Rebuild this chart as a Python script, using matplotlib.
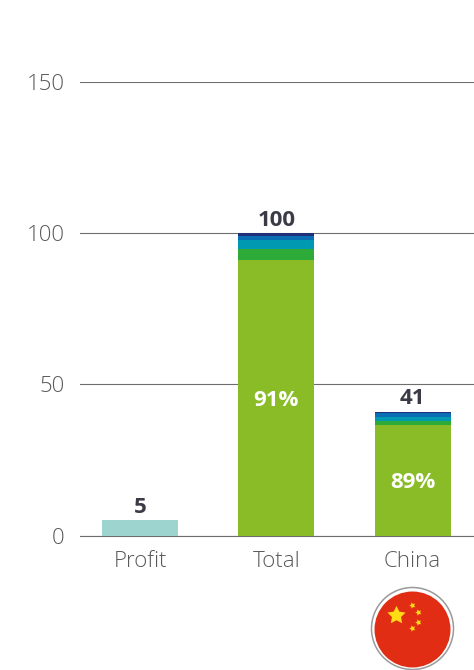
import matplotlib.pyplot as plt
from matplotlib.patches import Circle

plt.rcParams['font.family'] = ['Open Sans', 'DejaVu Sans']

categories = ['Profit', 'Total', 'China']
totals = [5, 100, 41]
yticks = [0, 50, 100, 150]

profit_value = [5, 0, 0]
lime = [0, 91, 36.5]
green = [0, 3.9, 1.4]
teal = [0, 2.8, 1.3]
blue = [0, 1.3, 1.4]
navy = [0, 1.0, 0.4]
share_labels = ['', '91%', '89%']

W, H = 474, 670
fig = plt.figure(figsize=(W / 100, H / 100), dpi=100)
ax = fig.add_axes([80 / W, (H - 535.5) / H, 394 / W, 453.5 / H])

# bars
x = range(len(categories))
bottom = [0, 0, 0]
for vals, col in [(profit_value, '#9dd4cf'), (lime, '#89bc27'), (green, '#2eaa38'),
                  (teal, '#0099b2'), (blue, '#0a6eb4'), (navy, '#1f2f78')]:
    ax.bar(x, vals, width=0.558, bottom=bottom, color=col, zorder=3)
    bottom = [b + v for b, v in zip(bottom, vals)]

for i, t in enumerate(totals):
    ax.annotate(str(t), (i, t), xytext=(0, 9.2), textcoords='offset points',
                ha='center', va='center', fontsize=16, fontweight='bold',
                color='#3b3b47', zorder=5)
for i, s in enumerate(share_labels):
    if s:
        ax.annotate(s, (i, lime[i] / 2), xytext=(0, -1.8), textcoords='offset points',
                    ha='center', va='center', fontsize=16, fontweight='bold',
                    color='white', zorder=5)

ax.set_xlim(-60 / 136.3, 334 / 136.3)
ax.set_ylim(0, 150)
ax.set_xticks(list(x))
ax.set_xticklabels(categories)
ax.set_yticks(yticks)
ax.grid(True, axis='y', color='#6e6e6e', linewidth=0.8, zorder=1)
ax.set_axisbelow(True)
ax.tick_params(axis='both', length=0, labelsize=16, labelcolor='#58595b')
ax.tick_params(axis='y', pad=11)
ax.tick_params(axis='x', pad=11)
for side in ['top', 'right', 'left']:
    ax.spines[side].set_visible(False)
ax.spines['bottom'].set_color('#6e6e6e')
ax.spines['bottom'].set_linewidth(0.8)
for t in ax.get_yticklabels() + ax.get_xticklabels():
    t.set_fontweight('light')

# flag badge, drawn in pixel coordinates
flag = fig.add_axes([0, 0, 1, 1])
flag.set_xlim(0, W)
flag.set_ylim(H, 0)
flag.axis('off')
flag.add_patch(Circle((412.5, 628.5), 41, facecolor='white', edgecolor='#9a9a9a', linewidth=1.1))
flag.add_patch(Circle((412.5, 629.5), 38, facecolor='#e02d14', edgecolor='none'))
flag.scatter([396], [615], marker=(5, 1, 0), s=190, color='#ffdc14', linewidths=0)
flag.scatter([411.7, 418.3, 418.3, 411.7], [605, 612, 621.7, 628.3], marker=(5, 1, 20),
             s=22, color='#ffdc14', linewidths=0)

fig.savefig('out.png', dpi=100)
